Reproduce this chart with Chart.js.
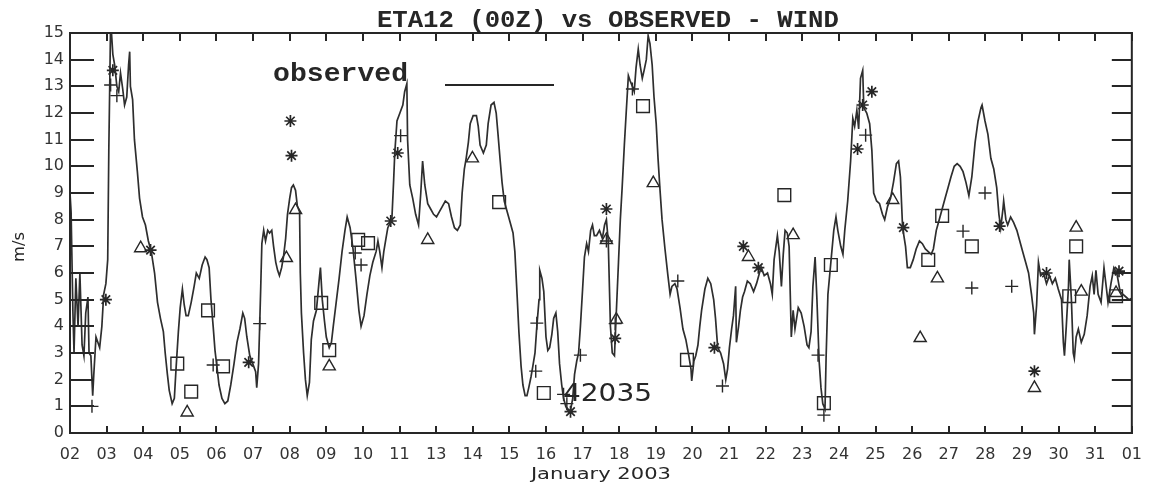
<!DOCTYPE html>
<html><head><meta charset="utf-8">
<script src="https://cdn.jsdelivr.net/npm/chart.js@4.4.1/dist/chart.umd.min.js"></script>
<style>html,body{margin:0;padding:0;background:#fff;}canvas{display:block;}</style>
</head><body>
<canvas id="c" width="1154" height="486"></canvas>
<script>
// tick labels (day of month) at equally spaced positions 0..29
const dayLabels = ['02','03','04','05','06','07','08','09','10','11','13','14','15','16','17','18','19','20','21','22','23','24','25','26','27','28','29','30','31','01'];

// observed wind (m/s); x in tick units (days from the "02" tick)
const obsDay = [0.00,0.03,0.08,0.11,0.16,0.22,0.27,0.33,0.38,0.43,0.49,0.52,0.57,0.62,0.65,0.71,0.76,0.81,0.87,0.92,0.98,1.03,1.06,1.09,1.11,1.17,1.22,1.28,1.33,1.38,1.44,1.49,1.55,1.60,1.63,1.65,1.71,1.76,1.84,1.90,1.98,2.06,2.14,2.22,2.31,2.39,2.47,2.55,2.60,2.66,2.71,2.79,2.85,2.90,2.96,3.01,3.07,3.12,3.17,3.23,3.31,3.39,3.45,3.53,3.61,3.69,3.74,3.80,3.85,3.91,3.96,4.02,4.07,4.15,4.23,4.31,4.39,4.48,4.56,4.64,4.72,4.77,4.83,4.91,4.99,5.07,5.10,5.15,5.18,5.21,5.24,5.29,5.34,5.40,5.45,5.51,5.56,5.62,5.67,5.72,5.78,5.83,5.89,5.94,6.00,6.05,6.10,6.16,6.21,6.27,6.29,6.32,6.38,6.43,6.48,6.54,6.59,6.65,6.73,6.81,6.84,6.89,6.95,7.00,7.08,7.14,7.19,7.27,7.35,7.43,7.51,7.57,7.65,7.73,7.81,7.89,7.95,8.03,8.11,8.19,8.27,8.36,8.41,8.46,8.52,8.57,8.63,8.68,8.79,8.84,8.87,8.93,9.01,9.09,9.14,9.20,9.22,9.28,9.36,9.44,9.52,9.58,9.63,9.69,9.77,9.85,9.93,10.01,10.09,10.17,10.25,10.34,10.42,10.50,10.58,10.66,10.71,10.77,10.82,10.88,10.93,11.01,11.10,11.15,11.20,11.29,11.37,11.42,11.50,11.58,11.64,11.69,11.75,11.80,11.86,11.94,12.02,12.10,12.15,12.21,12.26,12.32,12.37,12.43,12.48,12.53,12.59,12.64,12.70,12.75,12.81,12.83,12.89,12.94,13.00,13.05,13.10,13.16,13.21,13.27,13.32,13.37,13.43,13.48,13.54,13.62,13.67,13.73,13.78,13.84,13.89,13.94,14.00,14.05,14.11,14.16,14.22,14.27,14.32,14.38,14.46,14.54,14.60,14.65,14.70,14.76,14.81,14.87,14.92,14.98,15.03,15.08,15.14,15.19,15.25,15.30,15.36,15.41,15.46,15.52,15.57,15.63,15.68,15.74,15.79,15.84,15.90,15.95,16.01,16.06,16.11,16.17,16.25,16.33,16.39,16.44,16.52,16.58,16.66,16.74,16.82,16.90,16.96,16.98,17.04,17.09,17.15,17.20,17.25,17.34,17.42,17.50,17.58,17.63,17.69,17.77,17.85,17.91,17.96,18.01,18.07,18.12,18.18,18.20,18.26,18.31,18.37,18.42,18.50,18.58,18.67,18.75,18.83,18.88,18.96,19.05,19.13,19.18,19.23,19.32,19.37,19.43,19.48,19.53,19.59,19.64,19.70,19.75,19.80,19.89,19.97,20.05,20.13,20.18,20.24,20.29,20.35,20.40,20.46,20.51,20.56,20.62,20.65,20.70,20.78,20.86,20.92,20.97,21.05,21.11,21.16,21.24,21.32,21.38,21.43,21.49,21.54,21.59,21.65,21.68,21.76,21.84,21.90,21.95,22.03,22.11,22.19,22.25,22.33,22.41,22.49,22.57,22.63,22.68,22.74,22.82,22.87,22.95,23.03,23.11,23.20,23.28,23.36,23.44,23.52,23.58,23.66,23.74,23.82,23.90,23.98,24.06,24.15,24.23,24.31,24.39,24.47,24.55,24.63,24.72,24.80,24.88,24.91,24.99,25.07,25.15,25.23,25.31,25.37,25.42,25.48,25.50,25.56,25.61,25.69,25.77,25.86,25.94,26.02,26.10,26.18,26.26,26.32,26.34,26.40,26.45,26.51,26.59,26.67,26.75,26.83,26.91,26.99,27.08,27.13,27.16,27.21,27.27,27.29,27.35,27.40,27.43,27.48,27.54,27.62,27.70,27.78,27.86,27.92,27.97,28.02,28.08,28.16,28.24,28.30,28.35,28.43,28.51,28.59,28.68,28.76,28.84,28.92,29.00];
const obsSpeed = [9.0,8.3,4.5,3.0,5.8,4.0,6.0,3.3,2.9,4.5,5.1,3.0,2.9,1.4,2.2,3.6,3.4,3.2,4.0,5.2,5.6,6.5,10.6,13.5,15.5,14.2,13.8,13.0,12.8,13.5,12.9,12.3,12.6,13.8,14.3,13.0,12.5,11.0,9.8,8.8,8.1,7.8,7.2,6.8,6.0,4.9,4.3,3.8,3.0,2.2,1.6,1.1,1.3,2.5,3.8,4.7,5.4,4.8,4.4,4.4,4.9,5.5,6.0,5.8,6.3,6.6,6.5,6.2,5.0,4.0,3.1,2.4,1.8,1.3,1.1,1.2,1.8,2.6,3.4,3.9,4.5,4.3,3.6,2.9,2.6,2.3,1.7,2.6,4.0,5.5,7.1,7.6,7.2,7.6,7.5,7.6,7.0,6.4,6.1,5.9,6.2,6.6,7.3,8.2,8.8,9.2,9.3,9.1,8.5,8.3,6.0,4.5,3.0,2.0,1.4,1.9,3.5,4.2,4.6,5.8,6.2,5.0,4.2,3.6,3.2,3.4,4.0,4.9,5.8,6.8,7.6,8.1,7.7,6.9,5.8,4.6,4.0,4.4,5.2,5.9,6.4,6.8,7.2,6.8,6.2,6.8,7.3,7.7,8.0,9.5,10.5,11.7,12.0,12.3,12.8,13.1,11.0,9.3,8.8,8.2,7.8,9.0,10.2,9.3,8.6,8.4,8.2,8.1,8.3,8.5,8.7,8.6,8.1,7.7,7.6,7.8,9.0,9.9,10.3,10.9,11.6,11.9,11.9,11.5,10.8,10.5,10.8,11.6,12.3,12.4,12.0,11.2,10.2,9.4,8.7,8.3,7.9,7.5,6.8,5.2,3.8,2.5,1.8,1.4,1.4,1.7,2.1,2.5,3.0,4.0,5.0,6.1,5.8,5.3,3.6,3.1,3.2,3.7,4.3,4.5,3.8,2.6,1.8,1.3,1.0,0.8,0.85,1.3,2.2,2.7,3.0,4.0,5.4,6.6,7.1,6.8,7.6,7.8,7.4,7.4,7.6,7.3,7.8,8.0,7.2,4.0,3.0,2.9,4.5,6.4,8.0,9.2,10.8,12.0,13.4,13.2,13.0,12.8,13.7,14.4,13.8,13.3,13.6,14.0,14.9,14.6,13.8,12.6,11.6,10.3,9.2,8.0,6.9,5.9,5.2,5.5,5.6,5.4,4.7,3.9,3.5,2.9,2.4,1.95,2.7,2.9,3.3,4.0,4.6,5.4,5.8,5.6,5.0,4.3,3.2,3.0,2.6,2.0,2.4,3.2,3.9,4.4,5.5,3.4,4.0,4.6,5.1,5.3,5.7,5.6,5.3,5.6,6.0,6.2,5.9,6.0,5.6,5.2,6.5,7.4,6.8,5.5,6.7,7.6,7.5,7.0,3.6,4.6,3.9,4.7,4.5,4.0,3.3,3.2,3.8,5.5,6.6,5.0,2.7,1.7,1.1,0.9,2.8,5.2,6.4,7.6,8.1,7.6,7.0,6.7,7.6,8.7,10.2,11.8,11.5,12.1,11.4,13.3,13.6,12.2,12.0,11.6,10.6,9.0,8.7,8.6,8.2,8.0,8.5,8.8,9.4,10.1,10.2,9.6,7.7,7.0,6.2,6.2,6.5,6.9,7.2,7.1,6.9,6.8,6.7,6.9,7.6,8.0,8.4,8.8,9.2,9.6,10.0,10.1,10.0,9.8,9.4,8.9,9.6,10.9,11.7,12.2,12.3,11.7,11.2,10.3,9.9,9.2,8.2,7.7,8.4,8.7,8.0,7.8,8.1,7.9,7.6,7.2,6.8,6.4,6.0,5.2,4.5,3.7,4.8,6.4,5.9,6.0,5.6,5.9,5.6,5.8,5.4,5.0,3.4,2.9,4.0,5.5,6.5,5.0,3.0,2.8,3.6,3.9,3.4,3.7,4.4,5.5,5.9,5.2,6.1,5.2,4.9,6.2,5.5,4.9,5.6,6.2,6.0,5.3,5.2,5.1,5.0,5.05];

// forecast markers
const plusDay = [0.60,1.11,1.28,3.91,5.18,7.79,7.95,9.03,12.72,12.75,13.48,13.57,13.94,14.65,14.89,15.36,16.60,17.82,20.43,20.59,21.73,24.39,24.63,24.99,25.72];
const plusSpeed = [1.0,13.05,12.65,2.55,4.1,6.75,6.3,11.15,2.32,4.12,1.45,1.1,2.92,7.2,4.1,12.9,5.7,1.76,2.92,0.67,11.17,7.57,5.44,9.0,5.5];
const starDay = [0.98,1.17,2.20,4.88,6.02,6.05,8.76,8.95,13.67,14.65,14.89,17.60,18.39,18.80,21.51,21.65,21.90,22.76,25.39,26.34,26.67,28.65];
const starSpeed = [5.0,13.6,6.86,2.65,11.7,10.4,7.95,10.5,0.8,8.4,3.55,3.2,7.0,6.2,10.65,12.3,12.8,7.7,7.76,2.32,6.0,6.07];
const squareDay = [2.93,3.31,3.77,4.18,6.86,7.08,7.87,8.14,11.72,12.94,15.65,16.85,19.51,20.59,20.78,23.44,23.82,24.63,27.29,27.48,28.57];
const squareSpeed = [2.6,1.55,4.6,2.5,4.88,3.11,7.24,7.12,8.66,1.5,12.26,2.74,8.92,1.12,6.3,6.49,8.14,7.0,5.13,7.0,5.13];
const triDay = [1.93,3.20,5.91,6.16,7.08,9.77,10.99,14.65,14.92,15.93,18.53,19.75,22.47,23.22,23.69,26.34,27.48,27.62,28.57];
const triSpeed = [6.93,0.77,6.56,8.36,2.5,7.24,10.3,7.24,4.25,9.37,6.6,7.42,8.74,3.56,5.8,1.69,7.7,5.3,5.25];

const yMax = 15;
const ink = '#262626';

function pts(xs, ys) { return xs.map((x, i) => ({x: x, y: ys[i]})); }

function fitText(ctx, str, font, x, y, width, align) {
  ctx.save();
  ctx.font = font;
  const w = ctx.measureText(str).width;
  ctx.translate(x, y);
  ctx.scale(width / w, 1);
  ctx.textAlign = align;
  ctx.textBaseline = 'alphabetic';
  ctx.fillStyle = ink;
  ctx.fillText(str, 0, 0);
  ctx.restore();
}

const framePlugin = {
  id: 'frame',
  afterDraw(chart) {
    const ctx = chart.ctx, a = chart.chartArea, xs = chart.scales.x, ys = chart.scales.y;
    ctx.save();
    ctx.fillStyle = ink;
    // frame
    ctx.fillRect(a.left - 1, a.top - 1, a.right - a.left + 2, 2);
    ctx.fillRect(a.left - 1, a.bottom - 1, a.right - a.left + 2, 2);
    ctx.fillRect(a.left - 1, a.top - 1, 2, a.bottom - a.top + 2);
    ctx.fillRect(a.right - 1, a.top - 1, 2, a.bottom - a.top + 2);
    // y ticks, inward on both sides
    for (let v = 0; v <= yMax; v++) {
      const py = Math.round(ys.getPixelForValue(v));
      ctx.fillRect(a.left, py - 1, 24, 2);
      ctx.fillRect(a.right - 20, py - 1, 20, 2);
    }
    // x ticks, inward on top and bottom
    for (let i = 0; i < dayLabels.length; i++) {
      const px = Math.round(xs.getPixelForValue(i));
      ctx.fillRect(px - 1, a.top, 2, 8);
      ctx.fillRect(px - 1, a.bottom - 7, 2, 7);
    }

    const cx = (a.left + a.right) / 2;
    fitText(ctx, 'ETA12 (00Z) vs OBSERVED - WIND', "bold 24px 'Liberation Mono'", cx + 7, a.top - 6, 462, 'center');
    fitText(ctx, 'observed', "bold 25px 'Liberation Mono'", a.left + 203, a.top + 48, 135, 'left');
    ctx.fillRect(a.left + 375, a.top + 51, 109, 2);
    fitText(ctx, '42035', "24px 'DejaVu Sans'", a.left + 493, a.top + 368, 89, 'left');
    fitText(ctx, 'January 2003', "16px 'DejaVu Sans'", cx, a.bottom + 46, 140, 'center');
    ctx.save();
    ctx.translate(24, (a.top + a.bottom) / 2 + 14);
    ctx.rotate(-Math.PI / 2);
    fitText(ctx, 'm/s', "16px 'DejaVu Sans'", 0, 0, 30, 'center');
    ctx.restore();
    ctx.restore();
  }
};

const markerBase = {
  type: 'scatter', showLine: false, borderColor: ink, backgroundColor: 'rgba(0,0,0,0)',
  borderWidth: 1.4, clip: false
};

new Chart(document.getElementById('c'), {
  type: 'scatter',
  data: {
    datasets: [
      { label: 'observed', data: pts(obsDay, obsSpeed), showLine: true, borderColor: '#2e2e2e',
        borderWidth: 1.7, pointRadius: 0, tension: 0, fill: false },
      Object.assign({ label: 'plus', data: pts(plusDay, plusSpeed), pointStyle: 'cross', pointRadius: 6.5 }, markerBase),
      Object.assign({ label: 'star', data: pts(starDay, starSpeed), pointStyle: 'star', pointRadius: 6 }, markerBase, { borderWidth: 1.7 }),
      Object.assign({ label: 'square', data: pts(squareDay, squareSpeed), pointStyle: 'rect', pointRadius: 9 }, markerBase),
      Object.assign({ label: 'triangle', data: pts(triDay, triSpeed), pointStyle: 'triangle', pointRadius: 7 }, markerBase)
    ]
  },
  options: {
    responsive: false,
    devicePixelRatio: 1,
    animation: false,
    events: [],
    layout: { padding: { left: 0, right: 15, top: 33, bottom: 0 } },
    plugins: { legend: { display: false }, tooltip: { enabled: false }, title: { display: false } },
    scales: {
      x: {
        type: 'linear', min: 0, max: dayLabels.length - 1,
        grid: { display: false, drawTicks: false }, border: { display: false },
        afterFit(s) { s.height = 53; },
        ticks: { stepSize: 1, autoSkip: false, maxRotation: 0, maxTicksLimit: 100, padding: 12,
          color: '#333', font: { family: 'DejaVu Sans', size: 16 },
          callback: (v) => dayLabels[v] }
      },
      y: {
        min: 0, max: yMax,
        grid: { display: false, drawTicks: false }, border: { display: false },
        afterFit(s) { s.width = 70; },
        ticks: { stepSize: 1, autoSkip: false, maxTicksLimit: 100, padding: 6,
          color: '#333', font: { family: 'DejaVu Sans', size: 16 } }
      }
    }
  },
  plugins: [framePlugin]
});
</script>
</body></html>
